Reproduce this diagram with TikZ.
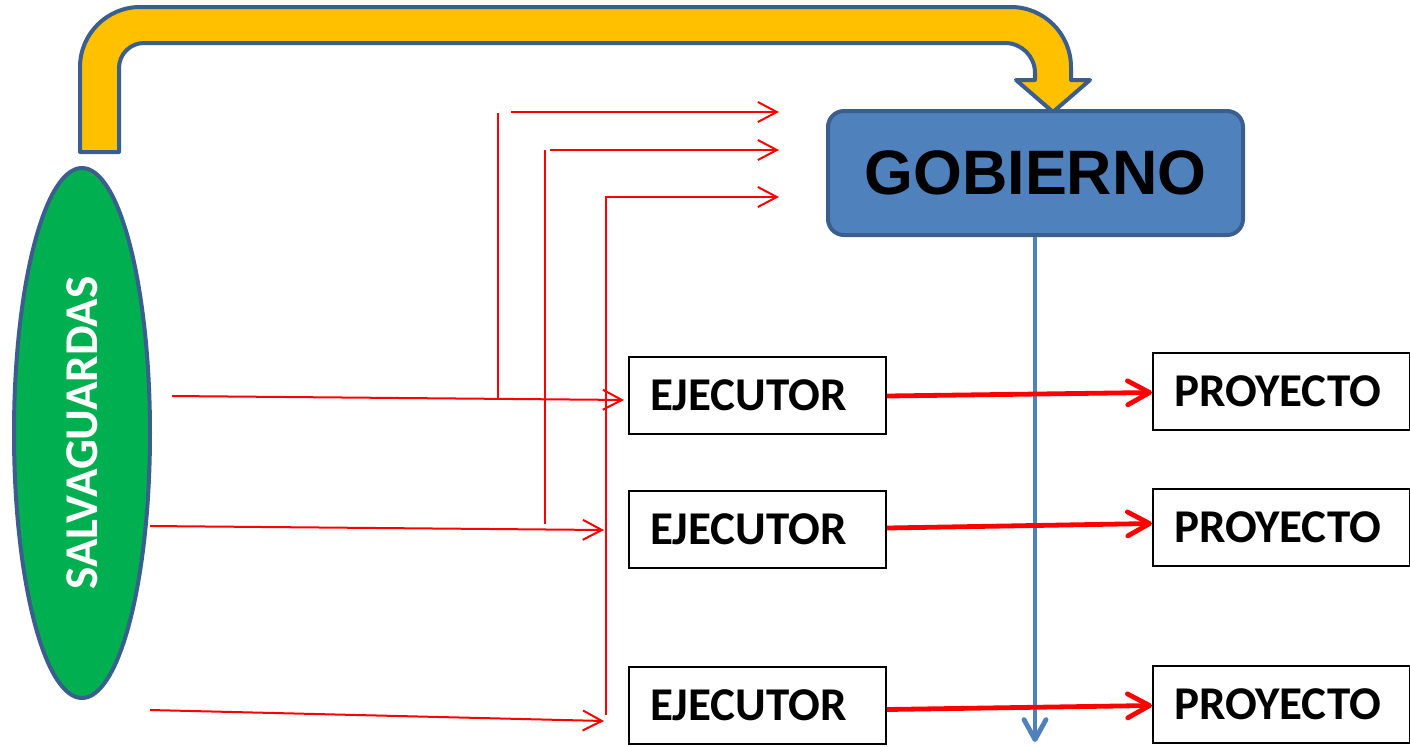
\documentclass[tikz,border=0pt]{standalone}
\usepackage{fontspec}
\newfontfamily\calibrifont{Carlito}
\newfontfamily\arialfont{Liberation Sans}
\usetikzlibrary{arrows.meta,shapes.geometric}
\definecolor{ygold}{HTML}{FFC000}
\definecolor{bdark}{HTML}{3A5F8F}
\definecolor{bfill}{HTML}{4F81BD}
\definecolor{gfill}{HTML}{00B050}
\definecolor{rred}{HTML}{FF0000}
\tikzset{
  box/.style={draw=black, line width=1pt, fill=white, minimum width=128.5pt, minimum height=38.5pt,
     text width=107.5pt, align=left, inner xsep=10.5pt, inner ysep=0pt,
     font=\calibrifont\bfseries\fontsize{23.5}{26}\selectfont},
  thin/.style={draw=rred, line width=1pt},
  thinarrow/.style={thin, -{Straight Barb[length=9.5pt,width=10pt]}},
  thickarrow/.style={draw=rred, line width=2.4pt, -{Straight Barb[length=11pt,width=12pt,round]}},
  bluearrow/.style={draw=bfill, line width=2.4pt, -{Straight Barb[length=10pt,width=11pt,round]}}
}
\begin{document}
\begin{tikzpicture}[x=0.5pt,y=-0.5pt]
\useasboundingbox (0,0) rectangle (1410,746);

% yellow bent arrow
\filldraw[fill=ygold, draw=bdark, line width=2pt, line join=round]
  (80,152) -- (80,67) .. controls (80,34) and (107,7) .. (140,7)
  -- (1011,7) .. controls (1044,7) and (1071,34) .. (1071,67)
  -- (1071,80) -- (1090,80) -- (1053,112) -- (1016,80) -- (1035,80)
  -- (1035,73) .. controls (1035,56.4) and (1021.6,43) .. (1005,43)
  -- (144,43) .. controls (130.2,43) and (119,54.2) .. (119,68)
  -- (119,152) -- cycle;

% nodes
\node[ellipse, draw=bdark, fill=gfill, line width=2pt, minimum width=68pt, minimum height=265pt, inner sep=0pt,
      text=white, font=\calibrifont\bfseries\fontsize{23.5}{26}\selectfont] (salv) at (82,433) {\rotatebox{90}{SALVAGUARDAS}};

\node[draw=bdark, fill=bfill, line width=2pt, rounded corners=8pt, minimum width=207.5pt, minimum height=62pt,
      font=\arialfont\bfseries\fontsize{31.4}{34}\selectfont] (gob) at (1035.5,173) {\raisebox{-1.5pt}{GOBIERNO}};

\node[box] (ej1) at (757.5,395) {\raisebox{-1pt}{EJECUTOR}};
\node[box] (ej2) at (757.5,529) {\raisebox{-1pt}{EJECUTOR}};
\node[box] (ej3) at (757.5,705.5) {\raisebox{-1pt}{EJECUTOR}};
\node[box] (pr1) at (1281.5,391.5) {\raisebox{-1pt}{PROYECTO}};
\node[box] (pr2) at (1281.5,527.5) {\raisebox{-1pt}{PROYECTO}};
\node[box] (pr3) at (1281.5,704.5) {\raisebox{-1pt}{PROYECTO}};

% coordinates
\coordinate (sA) at (172,396);
\coordinate (sB) at (150,526);
\coordinate (tB) at (604,530);
\coordinate (sC) at (150,710);
\coordinate (tC) at (604,721);
\coordinate (v1b) at (498,398);
\coordinate (v1t) at (498,113);
\coordinate (h1s) at (511,112);
\coordinate (h1e) at (779,112);
\coordinate (v2b) at (545,524);
\coordinate (v2t) at (545,150);
\coordinate (h2s) at (550,150);
\coordinate (h2e) at (779,150);
\coordinate (v3b) at (606,715);
\coordinate (v3t) at (606,197);
\coordinate (h3e) at (779,197);
\coordinate (gobend) at (1035,742);

% blue arrow
\draw[bluearrow] (gob.south -| gobend) -- (gobend);

% thin red lines
\draw[thinarrow, shorten >=2pt] (sA) -- ([yshift=-2.5pt]ej1.west);
\draw[thinarrow] (sB) -- (tB);
\draw[thinarrow] (sC) -- (tC);
\draw[thin] (v1b) -- (v1t);
\draw[thinarrow] (h1s) -- (h1e);
\draw[thin] (v2b) -- (v2t);
\draw[thinarrow] (h2s) -- (h2e);
\draw[thinarrow] (v3b) -- (v3t) -- (h3e);

% thick red arrows
\draw[thickarrow] ([yshift=-0.5pt]ej1.east) -- ([yshift=-0.5pt]pr1.west);
\draw[thickarrow] ([yshift=0.5pt]ej2.east) -- ([yshift=2pt]pr2.west);
\draw[thickarrow] ([yshift=-2pt]ej3.east) -- ([yshift=-0.5pt]pr3.west);
\end{tikzpicture}
\end{document}
